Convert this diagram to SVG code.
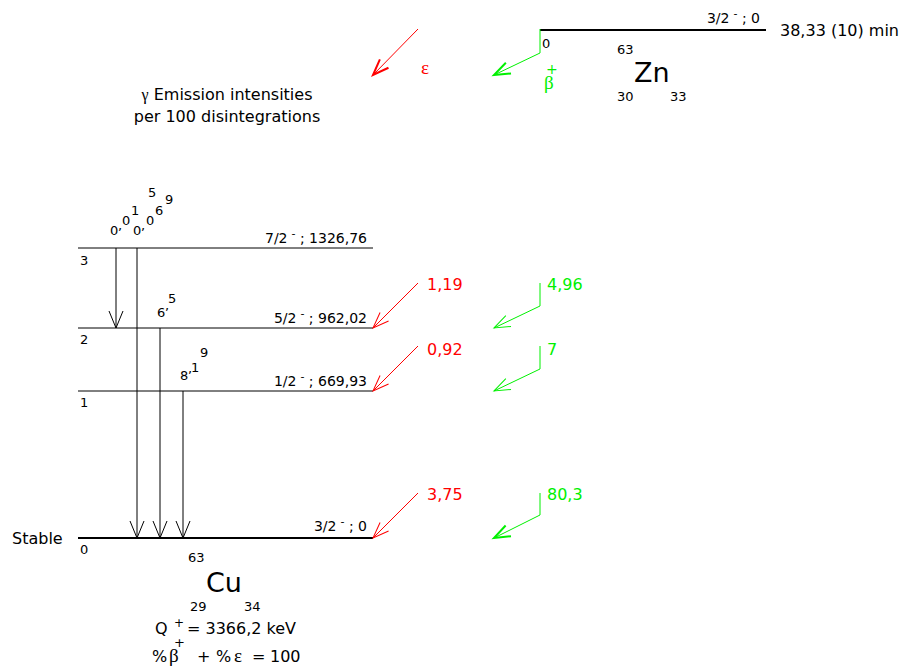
<svg xmlns="http://www.w3.org/2000/svg" width="909" height="670" viewBox="0 0 909 670">
<defs>
<style>
text{font-family:"DejaVu Sans","Liberation Sans",Arial,sans-serif;fill:#000}
.lvl{stroke:#000;stroke-width:1;fill:none}
.gs{stroke:#000;stroke-width:2;fill:none}
.gam{stroke:#000;stroke-width:1;fill:none}
.ec{stroke:#ff0000;stroke-width:1;fill:none}
.bp{stroke:#00f000;stroke-width:1;fill:none}
.red{fill:#ff0000}
.grn{fill:#00f000}
.s13{font-size:13px}
.s14{font-size:14px}
.s16{font-size:16px}
.s27{font-size:27px}
.serif{font-family:"Liberation Serif","DejaVu Serif",serif}
.gk{font-family:"Liberation Serif","DejaVu Serif",serif;font-size:19px}
</style>
<marker id="ah-k" markerUnits="userSpaceOnUse" markerWidth="18" markerHeight="16" refX="17" refY="7" orient="auto" overflow="visible">
<path d="M0,0 L17,7 L0,14" fill="none" stroke="#000" stroke-width="1"/>
</marker>
<marker id="ah-r" markerUnits="userSpaceOnUse" markerWidth="18" markerHeight="14" refX="16" refY="6" orient="auto" overflow="visible">
<path d="M0,0 L16,6 L0,12" fill="none" stroke="#ff0000" stroke-width="1"/>
</marker>
<marker id="ah-r2" markerUnits="userSpaceOnUse" markerWidth="18" markerHeight="14" refX="16" refY="6" orient="auto" overflow="visible">
<path d="M0,0 L16,6 L0,12" fill="none" stroke="#ff0000" stroke-width="2"/>
</marker>
<marker id="ah-g" markerUnits="userSpaceOnUse" markerWidth="18" markerHeight="14" refX="16" refY="6" orient="auto" overflow="visible">
<path d="M0,0 L16,6 L0,12" fill="none" stroke="#00f000" stroke-width="1"/>
</marker>
<marker id="ah-g2" markerUnits="userSpaceOnUse" markerWidth="18" markerHeight="14" refX="16" refY="6" orient="auto" overflow="visible">
<path d="M0,0 L16,6 L0,12" fill="none" stroke="#00f000" stroke-width="2"/>
</marker>
</defs>

<!-- Parent Zn-63 -->
<g id="zn63">
<line class="gs" x1="540" y1="30" x2="766" y2="30"/>
<text class="s14" x="760" y="23" text-anchor="end">3/2<tspan dx="4" dy="-6" font-size="11">-</tspan><tspan dy="6"> ; 0</tspan></text>
<text class="s16" x="780" y="36">38,33 (10) min</text>
<text class="s13" x="542" y="48">0</text>
<text class="s13" x="617" y="54">63</text>
<text class="s27" x="634" y="82">Zn</text>
<text class="s13" x="617" y="101">30</text>
<text class="s13" x="670" y="101">33</text>
</g>

<!-- Legend -->
<g id="legend">
<text class="gk red" x="421" y="74">ε</text>
<text class="gk grn" x="544" y="89">β</text>
<text class="s14 grn" x="546" y="74">+</text>
<text class="s16" x="227" y="100" text-anchor="middle"><tspan class="serif">γ</tspan> Emission intensities</text>
<text class="s16" x="227" y="122" text-anchor="middle">per 100 disintegrations</text>
</g>

<!-- Daughter levels Cu-63 -->
<g id="level3">
<line class="lvl" x1="78" y1="248" x2="373" y2="248" stroke="#333"/>
<text class="s13" x="80" y="265">3</text>
<text class="s14" x="367" y="243" text-anchor="end">7/2<tspan dx="4" dy="-6" font-size="11">-</tspan><tspan dy="6"> ; 1326,76</tspan></text>
</g>
<g id="level2">
<line class="lvl" x1="78" y1="328" x2="373" y2="328"/>
<text class="s13" x="80" y="344">2</text>
<text class="s14" x="367" y="323" text-anchor="end">5/2<tspan dx="4" dy="-6" font-size="11">-</tspan><tspan dy="6"> ; 962,02</tspan></text>
</g>
<g id="level1">
<line class="lvl" x1="78" y1="391" x2="373" y2="391"/>
<text class="s13" x="80" y="407">1</text>
<text class="s14" x="367" y="386" text-anchor="end">1/2<tspan dx="4" dy="-6" font-size="11">-</tspan><tspan dy="6"> ; 669,93</tspan></text>
</g>
<g id="level0">
<line class="gs" x1="78" y1="538" x2="373" y2="538"/>
<text class="s13" x="80" y="554">0</text>
<text class="s16" x="12" y="544">Stable</text>
<text class="s14" x="367" y="531" text-anchor="end">3/2<tspan dx="4" dy="-6" font-size="11">-</tspan><tspan dy="6"> ; 0</tspan></text>
</g>

<g id="cu63">
<text class="s13" x="188" y="562">63</text>
<text class="s27" x="206" y="592">Cu</text>
<text class="s13" x="190" y="611">29</text>
<text class="s13" x="244" y="611">34</text>
<text class="s16" x="155" y="634">Q<tspan x="174" dy="-7" font-size="12">+</tspan><tspan x="187" dy="7">= 3366,2 keV</tspan></text>
<text class="s16" x="152" y="662">%<tspan class="gk" x="169">β</tspan><tspan x="197">+</tspan><tspan x="216">%</tspan><tspan class="gk" x="234">ε</tspan><tspan x="252">=</tspan><tspan x="270">100</tspan></text>
<text class="s13" x="174" y="647">+</text>
</g>

<!-- Gamma labels -->
<g id="gamma-labels" class="s13">
<text x="110" y="235">0</text><text x="118" y="230">,</text>
<text x="122" y="225">0</text><text x="131" y="215">1</text><text x="148" y="197">5</text>
<text x="133" y="235">0</text><text x="141" y="230">,</text>
<text x="146" y="225">0</text><text x="155" y="215">6</text><text x="165" y="204">9</text>
<text x="157" y="317">6</text><text x="165" y="310">,</text><text x="168" y="303">5</text>
<text x="180" y="380">8</text><text x="188" y="373">,</text><text x="191" y="372">1</text><text x="200" y="357">9</text>
</g>

<!-- Feeding labels -->
<g id="feed-labels" class="s16">
<text class="red" x="427" y="290">1,19</text>
<text class="red" x="427" y="355">0,92</text>
<text class="red" x="427" y="500">3,75</text>
<text class="grn" x="547" y="290">4,96</text>
<text class="grn" x="547" y="355">7</text>
<text class="grn" x="547" y="500">80,3</text>
</g>

<!-- Connectors -->
<g id="connectors">
<line class="gam" x1="116" y1="248" x2="116" y2="328" marker-end="url(#ah-k)"/>
<line class="gam" x1="137" y1="248" x2="137" y2="538" marker-end="url(#ah-k)"/>
<line class="gam" x1="160" y1="328" x2="160" y2="538" marker-end="url(#ah-k)"/>
<line class="gam" x1="183" y1="391" x2="183" y2="538" marker-end="url(#ah-k)"/>

<line class="ec" x1="418" y1="29" x2="373" y2="75" stroke-width="2" marker-end="url(#ah-r2)"/>
<line class="ec" x1="418" y1="283" x2="373" y2="328" marker-end="url(#ah-r)"/>
<line class="ec" x1="418" y1="346" x2="373" y2="391" marker-end="url(#ah-r)"/>
<line class="ec" x1="418" y1="493" x2="373" y2="538" marker-end="url(#ah-r)"/>

<polyline class="bp" points="540,29 540,53 494,75" stroke-width="2" marker-end="url(#ah-g2)"/>
<polyline class="bp" points="540,283 540,306 494,328" marker-end="url(#ah-g)"/>
<polyline class="bp" points="540,346 540,369 494,391" marker-end="url(#ah-g)"/>
<polyline class="bp" points="540,493 540,515 494,538" stroke-width="2.5" marker-end="url(#ah-g2)"/>
</g>
</svg>
